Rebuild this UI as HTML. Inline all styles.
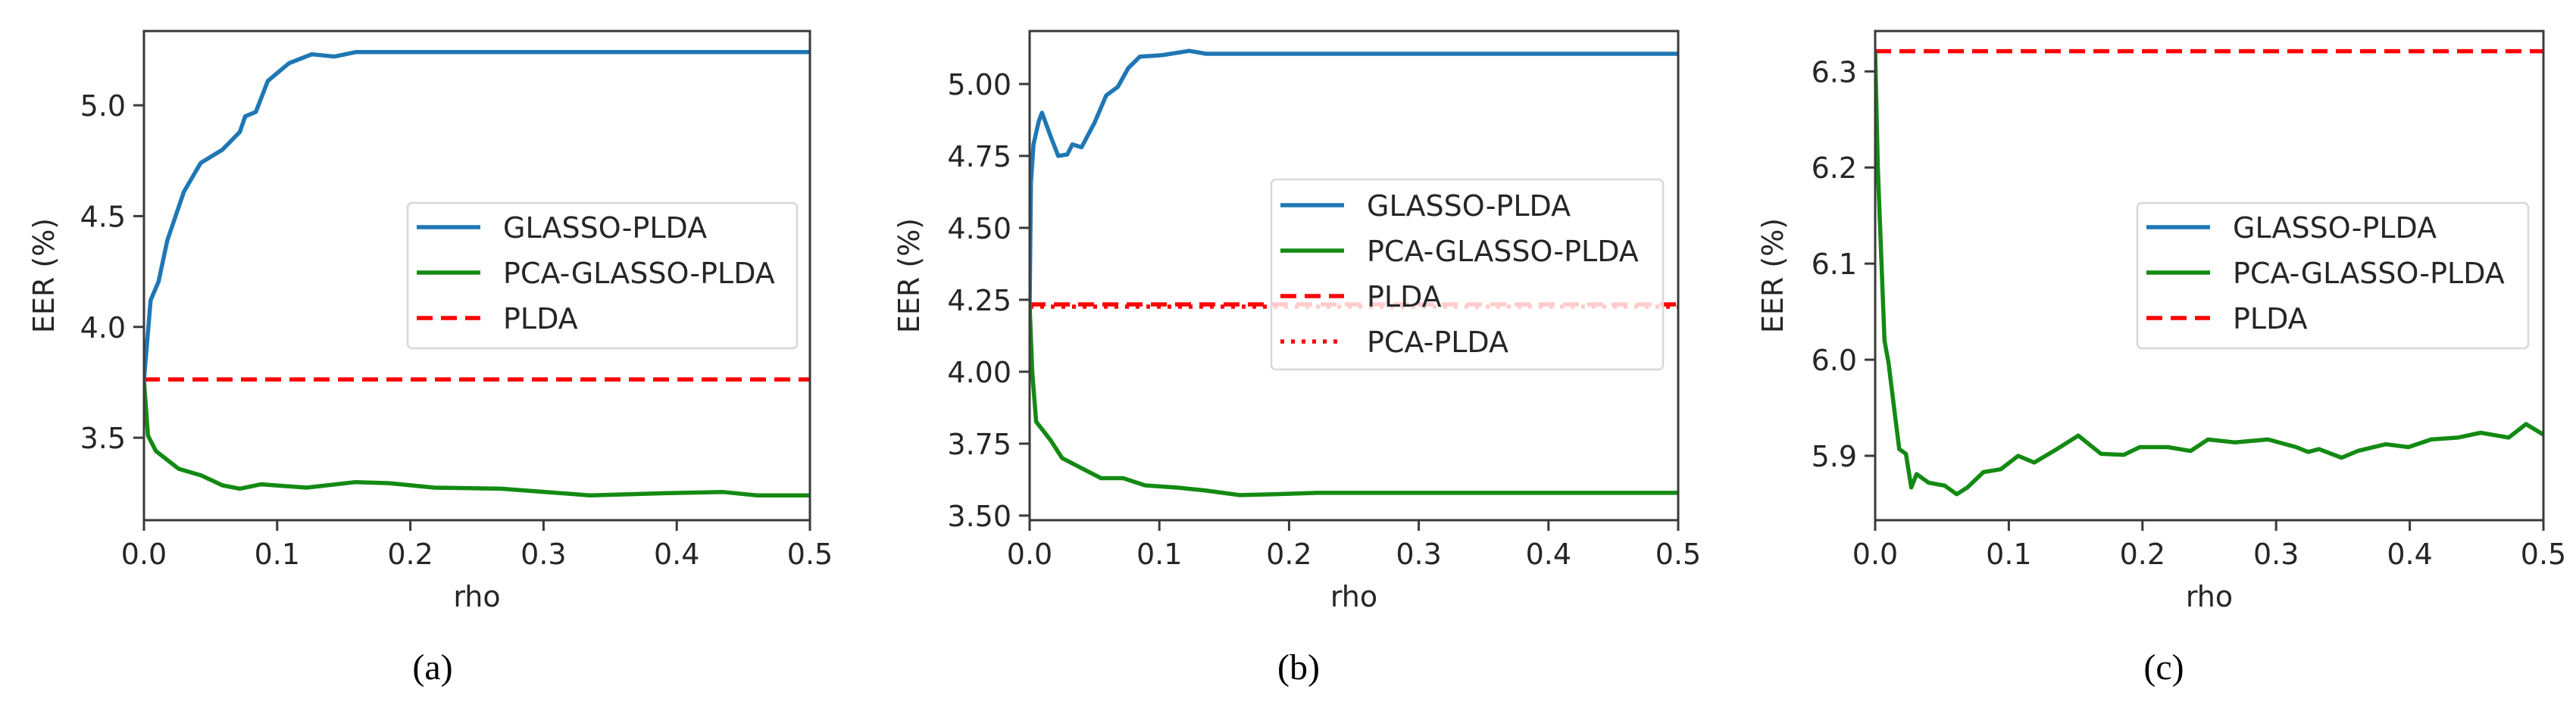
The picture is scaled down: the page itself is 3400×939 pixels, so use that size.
<!DOCTYPE html>
<html><head><meta charset="utf-8"><style>
html,body{margin:0;padding:0;background:#fff;}
svg{display:block;}
text{font-family:"DejaVu Sans","Liberation Sans",sans-serif;fill:#262626;}
.cap{font-family:"Liberation Serif",serif;fill:#000;}
</style></head><body>
<svg id="fig" width="3400" height="939" viewBox="0 0 3400 939" xmlns="http://www.w3.org/2000/svg"></svg>
<script>
// ---- Data ----
const xTicks = [0.0, 0.1, 0.2, 0.3, 0.4, 0.5];
const xTickLabels = ["0.0", "0.1", "0.2", "0.3", "0.4", "0.5"];

// Panel (a)
const aYTicks = [3.5, 4.0, 4.5, 5.0];
const aYTickLabels = ["3.5", "4.0", "4.5", "5.0"];
const aGlassoRho = [0, .005, .011, .0175, .03, .0426, .059, .072, .076, .084, .093, .109, .126, .143, .159, .2, .5];
const aGlassoEER = [3.76, 4.12, 4.205, 4.39, 4.61, 4.74, 4.80, 4.88, 4.95, 4.97, 5.11, 5.19, 5.23, 5.22, 5.24, 5.24, 5.24];
const aPcaRho = [0, .003, .009, .026, .043, .059, .072, .088, .122, .159, .184, .218, .268, .301, .335, .393, .435, .46, .5];
const aPcaEER = [3.76, 3.51, 3.44, 3.36, 3.33, 3.285, 3.27, 3.29, 3.275, 3.30, 3.295, 3.275, 3.27, 3.255, 3.24, 3.25, 3.255, 3.24, 3.24];
const aPlda = 3.763;

// Panel (b)
const bYTicks = [3.50, 3.75, 4.00, 4.25, 4.50, 4.75, 5.00];
const bYTickLabels = ["3.50", "3.75", "4.00", "4.25", "4.50", "4.75", "5.00"];
const bGlassoRho = [0, .001, .003, .007, .0095, .016, .022, .029, .033, .04, .05, .059, .068, .076, .085, .102, .123, .136, .5];
const bGlassoEER = [4.23, 4.66, 4.79, 4.87, 4.90, 4.82, 4.75, 4.755, 4.79, 4.78, 4.865, 4.96, 4.99, 5.055, 5.095, 5.10, 5.115, 5.105, 5.105];
const bPcaRho = [0, .002, .005, .016, .025, .042, .055, .072, .089, .115, .136, .162, .188, .222, .5];
const bPcaEER = [4.23, 4.0, 3.826, 3.763, 3.70, 3.66, 3.63, 3.63, 3.605, 3.597, 3.587, 3.571, 3.574, 3.579, 3.579];
const bPlda = 4.234;
const bPcaPlda = 4.226;

// Panel (c)
const cYTicks = [5.9, 6.0, 6.1, 6.2, 6.3];
const cYTickLabels = ["5.9", "6.0", "6.1", "6.2", "6.3"];
const cPcaRho = [0, .002, .005, .007, .01, .015, .018, .023, .027, .031, .04, .052, .061, .069, .081, .094, .107, .119, .136, .152, .169, .186, .198, .219, .236, .249, .269, .294, .315, .324, .332, .349, .361, .382, .399, .416, .436, .453, .474, .487, .5];
const cPcaEER = [6.32, 6.2, 6.091, 6.02, 5.997, 5.94, 5.907, 5.902, 5.867, 5.881, 5.872, 5.869, 5.86, 5.867, 5.883, 5.886, 5.90, 5.893, 5.907, 5.921, 5.902, 5.901, 5.909, 5.909, 5.905, 5.917, 5.914, 5.917, 5.909, 5.904, 5.907, 5.898, 5.905, 5.912, 5.909, 5.917, 5.919, 5.924, 5.919, 5.933, 5.922];
const cPlda = 6.321;

// ---- Drawing ----
const NS = "http://www.w3.org/2000/svg";
const svg = document.getElementById('fig');
function mk(tag, attrs, parent) {
  const e = document.createElementNS(NS, tag);
  for (const k in attrs) e.setAttribute(k, attrs[k]);
  (parent || svg).appendChild(e);
  return e;
}
const BLUE = "#1f77b4", GREEN = "#138a13", RED = "#ff0000";
const FS = 38;

function panel(p) {
  const g = mk('g', {});
  
  
  const xs = v => p.L + (v - 0) / 0.5 * (p.R - p.L);
  const ys = v => p.B - (v - p.ymin) / (p.ymax - p.ymin) * (p.B - p.T);
  const clipId = 'clip' + p.id;
  const cp = mk('clipPath', {id: clipId}, g);
  mk('rect', {x: p.L, y: p.T, width: p.R - p.L, height: p.B - p.T}, cp);
  const plot = mk('g', {'clip-path': 'url(#' + clipId + ')'}, g);
  
  

  function series(rx, ry, color, name) {
    const d = rx.map((r, i) => (i ? 'L' : 'M') + xs(r).toFixed(1) + ',' + ys(ry[i]).toFixed(1)).join(' ');
    const path = mk('path', {d: d, fill: 'none', stroke: color, 'stroke-width': 5.5, 'stroke-linejoin': 'round'}, plot);
    
    
  }
  function hline(v, dash, name) {
    const l = mk('line', {x1: p.L, x2: p.R, y1: ys(v), y2: ys(v), stroke: RED, 'stroke-width': 5.5, 'stroke-dasharray': dash}, plot);
    
    
  }
  if (p.plda !== undefined) hline(p.plda, '21 11', 'plda-line');
  if (p.pcaPlda !== undefined) hline(p.pcaPlda, '5 9', 'pca-plda-line');
  if (p.glRho) series(p.glRho, p.glEER, BLUE, 'glasso-plda-line');
  series(p.pcRho, p.pcEER, GREEN, 'pca-glasso-plda-line');

  const fr = mk('rect', {x: p.L, y: p.T, width: p.R - p.L, height: p.B - p.T, fill: 'none', stroke: '#3a3a3a', 'stroke-width': 3}, g);
  
  

  xTicks.forEach((t, i) => {
    const x = xs(t);
    mk('line', {x1: x, x2: x, y1: p.B, y2: p.B + 14, stroke: '#3a3a3a', 'stroke-width': 3}, g);
    const tx = mk('text', {x: x, y: p.B + 58, 'text-anchor': 'middle', 'font-size': FS}, g);
    tx.textContent = xTickLabels[i];
    
    
  });
  p.yTicks.forEach((t, i) => {
    const y = ys(t);
    mk('line', {x1: p.L - 14, x2: p.L, y1: y, y2: y, stroke: '#3a3a3a', 'stroke-width': 3}, g);
    const tx = mk('text', {x: p.L - 24, y: y + 14, 'text-anchor': 'end', 'font-size': FS}, g);
    tx.textContent = p.yLabels[i];
    
    
  });
  const xl = mk('text', {x: (p.L + p.R) / 2, y: 801, 'text-anchor': 'middle', 'font-size': FS}, g);
  xl.textContent = 'rho';
  
  
  const yl = mk('text', {x: 0, y: 0, 'text-anchor': 'middle', 'font-size': FS, transform: 'translate(' + (p.ylx + 13) + ',' + ((p.T + p.B) / 2) + ') rotate(-90)'}, g);
  yl.textContent = 'EER (%)';
  
  
  const cap = mk('text', {x: p.capx, y: 897, 'text-anchor': 'middle', 'font-size': 48, class: 'cap'}, g);
  cap.textContent = '(' + p.id + ')';
  
  

  const lg = mk('g', {}, g);
  
  
  const lb = p.leg;
  mk('rect', {x: lb.x, y: lb.y, width: lb.w, height: lb.h, rx: 6, fill: 'rgba(255,255,255,0.8)', stroke: '#d8d8d8', 'stroke-width': 2.5}, lg);
  lb.items.forEach((it, i) => {
    const y = lb.y0 + i * 60;
    const ent = mk('g', {}, lg);
    
    
    mk('line', {x1: lb.x + 12, x2: lb.x + 96, y1: y, y2: y, stroke: it.c, 'stroke-width': 5.5, 'stroke-dasharray': it.d || 'none'}, ent);
    const t = mk('text', {x: lb.x + 126, y: y + 14, 'font-size': FS}, ent);
    t.textContent = it.t;
  });
}

const legA = [{t: 'GLASSO-PLDA', c: BLUE}, {t: 'PCA-GLASSO-PLDA', c: GREEN}, {t: 'PLDA', c: RED, d: '21 11'}];
panel({id: 'a', L: 190, R: 1069, T: 41, B: 687, ymin: 3.128, ymax: 5.335, yTicks: aYTicks, yLabels: aYTickLabels,
  glRho: aGlassoRho, glEER: aGlassoEER, pcRho: aPcaRho, pcEER: aPcaEER, plda: aPlda, ylx: 58, capx: 571,
  leg: {x: 538, y: 268, w: 514, h: 192, y0: 300, items: legA}});
panel({id: 'b', L: 1359, R: 2215, T: 41, B: 687, ymin: 3.484, ymax: 5.184, yTicks: bYTicks, yLabels: bYTickLabels,
  glRho: bGlassoRho, glEER: bGlassoEER, pcRho: bPcaRho, pcEER: bPcaEER, plda: bPlda, pcaPlda: bPcaPlda, ylx: 1200, capx: 1714,
  leg: {x: 1678, y: 237, w: 517, h: 251, y0: 271, items: legA.concat([{t: 'PCA-PLDA', c: RED, d: '5 9'}])}});
panel({id: 'c', L: 2475, R: 3357, T: 41, B: 687, ymin: 5.833, ymax: 6.342, yTicks: cYTicks, yLabels: cYTickLabels,
  glRho: null, pcRho: cPcaRho, pcEER: cPcaEER, plda: cPlda, ylx: 2340, capx: 2856,
  leg: {x: 2821, y: 268, w: 516, h: 192, y0: 300, items: legA}});
</script>
</body></html>
